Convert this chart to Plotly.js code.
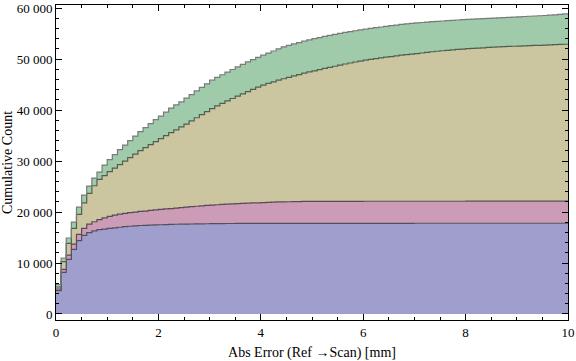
<!DOCTYPE html>
<html>
<head>
<meta charset="utf-8">
<script src="https://cdn.plot.ly/plotly-3.0.1.min.js"></script>
<style>html,body{margin:0;padding:0;background:#fff;}#chart{width:576px;height:361px;}</style>
</head>
<body>
<div id="chart"></div>
<script>
// bin left edges (mm), bin width 0.1
const binWidth = 0.1;
const binCount = 100;

// Upper boundary of each stacked layer (cumulative count), one value per bin
const blueTop = [4570,8170,10720,12680,14370,15430,15970,16310,16540,16660,
16780,16900,17010,17130,17210,17290,17350,17390,17420,17460,
17500,17540,17580,17600,17620,17640,17650,17660,17680,17700,
17720,17740,17740,17750,17750,17760,17760,17770,17770,17780,
17780,17780,17780,17780,17780,17780,17780,17780,17790,17790,
17790,17790,17790,17790,17790,17790,17790,17790,17790,17790,
17790,17790,17790,17790,17790,17790,17790,17790,17790,17790,
17800,17800,17800,17800,17800,17800,17800,17800,17800,17800,
17800,17800,17800,17800,17800,17800,17800,17800,17800,17800,
17800,17800,17800,17800,17800,17800,17800,17800,17800,17800];

const pinkTop = [4900,8760,11560,13720,15620,16800,17640,18090,18520,18860,
19150,19400,19600,19730,19890,19990,20110,20190,20330,20420,
20520,20620,20680,20780,20850,20970,21050,21130,21210,21290,
21360,21420,21480,21540,21600,21660,21700,21740,21780,21810,
21850,21890,21930,21970,21990,22010,22030,22050,22070,22090,
22100,22100,22100,22100,22100,22100,22100,22100,22100,22100,
22110,22110,22110,22110,22110,22110,22110,22110,22110,22110,
22110,22110,22110,22110,22110,22110,22110,22110,22110,22110,
22120,22120,22120,22120,22120,22120,22120,22120,22120,22120,
22120,22120,22120,22120,22120,22120,22120,22120,22120,22120];

const khakiTop = [5290,10250,13860,16800,19540,21810,23660,25150,26400,27150,
27930,28620,29300,29990,30670,31360,32050,32630,33220,33810,
34400,34990,35550,36120,36690,37240,37890,38490,39090,39690,
40280,40800,41290,41780,42260,42730,43180,43630,44060,44490,
44900,45230,45540,45850,46140,46420,46700,46960,47230,47490,
47690,47930,48160,48380,48590,48810,49030,49220,49420,49590,
49770,49930,50080,50220,50360,50490,50630,50750,50860,50980,
51080,51190,51310,51430,51530,51630,51720,51800,51880,51960,
52040,52100,52160,52210,52270,52330,52390,52430,52470,52510,
52550,52590,52630,52670,52700,52740,52780,52820,52860,52900];

const greenTop = [5780,10980,14900,18030,20970,23320,25090,26660,27830,29200,
30280,31260,32240,33120,34010,34890,35770,36550,37340,38120,
38810,39590,40380,41000,41600,42330,43040,43740,44430,45150,
45860,46400,46920,47440,47950,48450,48950,49450,49900,50330,
50750,51170,51580,51990,52390,52690,52970,53240,53500,53750,
53990,54220,54440,54650,54850,55040,55220,55390,55550,55710,
55860,56010,56150,56290,56420,56550,56670,56790,56900,57000,
57090,57170,57250,57320,57390,57460,57530,57600,57660,57720,
57780,57840,57890,57940,57990,58040,58090,58140,58190,58240,
58290,58340,58390,58440,58490,58540,58600,58670,58750,58850];

const xTickVals = [0,2,4,6,8,10];
const yTickVals = [0,10000,20000,30000,40000,50000,60000];

const edges = [];
for (let i = 0; i <= binCount; i++) edges.push(+(i * binWidth).toFixed(2));
function stepY(arr){ return arr.concat([arr[arr.length-1]]); }

const layers = [
  {y: blueTop,  fill: '#a09ecc', line: '#4f4f5f', mode: 'tozeroy'},
  {y: pinkTop,  fill: '#cc9cb7', line: '#5a4a55', mode: 'tonexty'},
  {y: khakiTop, fill: '#cbc6a0', line: '#4f5f4f', mode: 'tonexty'},
  {y: greenTop, fill: '#a0cbaa', line: '#7a7a7a', mode: 'tonexty'}
];

const traces = layers.map(L => ({
  type: 'scatter',
  mode: 'lines',
  x: edges,
  y: stepY(L.y),
  line: {shape: 'hv', color: L.line, width: 1.2},
  fill: L.mode,
  fillcolor: L.fill,
  hoverinfo: 'skip',
  showlegend: false
}));

const fam = '"Liberation Serif", "Times New Roman", serif';
const tickFont = {family: fam, size: 13, color: '#000'};
const titleFont = {family: fam, size: 14, color: '#000'};

const layout = {
  width: 576, height: 361,
  margin: {l: 56, r: 8, t: 5, b: 41},
  paper_bgcolor: '#fff', plot_bgcolor: '#fff',
  separators: '. ',
  font: tickFont,
  showlegend: false,
  xaxis: {
    range: [0, 10],
    tickvals: xTickVals,
    ticks: 'inside', ticklen: 6, tickwidth: 1, tickcolor: '#000',
    minor: {dtick: 0.5, ticks: 'inside', ticklen: 3, tickcolor: '#000', showgrid: false},
    showline: true, linecolor: '#000', linewidth: 1, mirror: 'ticks',
    showgrid: false, zeroline: false,
    tickfont: tickFont,
    title: {text: 'Abs Error (Ref \u2192Scan) [mm]', font: titleFont, standoff: 8}
  },
  yaxis: {
    range: [-1180, 60600],
    tickvals: yTickVals,
    tickformat: ',d',
    ticks: 'inside', ticklen: 6, tickwidth: 1, tickcolor: '#000',
    minor: {dtick: 2000, ticks: 'inside', ticklen: 3, tickcolor: '#000', showgrid: false},
    showline: true, linecolor: '#000', linewidth: 1, mirror: 'ticks',
    showgrid: false, zeroline: false,
    tickfont: tickFont,
    title: {text: 'Cumulative Count', font: titleFont, standoff: 4}
  }
};

Plotly.newPlot('chart', traces, layout, {displayModeBar: false, staticPlot: true});
</script>
</body>
</html>
